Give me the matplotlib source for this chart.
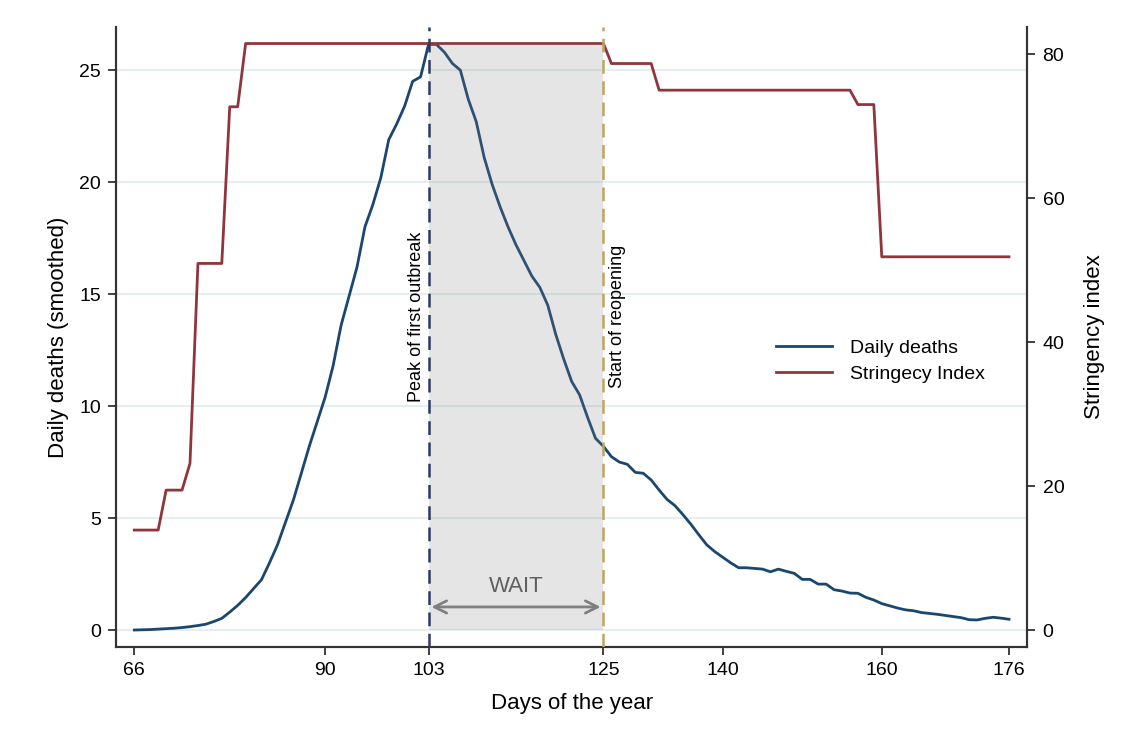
import numpy as np
import matplotlib
matplotlib.use("Agg")
import matplotlib.pyplot as plt

plt.rcParams['font.family'] = ['Liberation Sans', 'DejaVu Sans']

# days 66..176
days = list(range(66, 177))

# daily deaths (smoothed)
deaths = [0.00, 0.01, 0.02, 0.04, 0.06, 0.08, 0.11, 0.15, 0.20, 0.26,
          0.38, 0.52, 0.80, 1.10, 1.45, 1.85, 2.25, 3.00, 3.80, 4.80,
          5.80, 7.00, 8.20, 9.30, 10.40, 11.80, 13.60, 14.90, 16.20, 18.00,
          19.00, 20.20, 21.90, 22.60, 23.40, 24.50, 24.70, 26.15, 26.15, 25.80,
          25.30, 25.00, 23.70, 22.70, 21.10, 19.90, 18.90, 18.00, 17.20, 16.50,
          15.80, 15.30, 14.50, 13.20, 12.10, 11.10, 10.50, 9.50, 8.56, 8.20,
          7.74, 7.50, 7.40, 7.04, 7.00, 6.70, 6.25, 5.83, 5.55, 5.15,
          4.72, 4.25, 3.80, 3.50, 3.25, 3.00, 2.78, 2.78, 2.75, 2.72,
          2.60, 2.72, 2.62, 2.53, 2.26, 2.26, 2.05, 2.05, 1.80, 1.74,
          1.65, 1.64, 1.46, 1.34, 1.18, 1.08, 0.98, 0.90, 0.86, 0.78,
          0.74, 0.70, 0.65, 0.60, 0.55, 0.46, 0.45, 0.52, 0.57, 0.53,
          0.48]

# stringency index
stringency = ([13.89] * 4 + [19.44] * 3 + [23.15] + [50.93] * 4 + [72.69] * 2
              + [81.48] * 46 + [78.70] * 6 + [75.00] * 25 + [73.00] * 3
              + [51.85] * 17)

peak_day = 103
reopen_day = 125

xticks = [66, 90, 103, 125, 140, 160, 176]
yticks_left = [0, 5, 10, 15, 20, 25]
yticks_right = [0, 20, 40, 60, 80]

navy = '#1a476f'
maroon = '#90353b'
spine_col = '#333333'

fig = plt.figure(figsize=(11.32, 7.55), dpi=100)
ax = fig.add_axes([0.1025, 0.143, 0.805, 0.821])
ax2 = ax.twinx()

# grid
for y in yticks_left:
    ax.axhline(y, color='#e6eef0', lw=1.5, zorder=0)

ld, = ax.plot(days, deaths, color=navy, lw=2, label='Daily deaths', zorder=3)
ls, = ax2.plot(days, stringency, color=maroon, lw=2, label='Stringecy Index', zorder=3)

# wait period shading (drawn above the lines)
ax2.fill_between([peak_day, reopen_day], 0, max(deaths), transform=ax.transData,
                 color='#808080', alpha=0.2, lw=0, zorder=4)

ax2.axvline(peak_day, color='#2a3b63', lw=1.8, ls=(0, (5.5, 3)), zorder=5)
ax2.axvline(reopen_day, color='#bda463', lw=1.8, ls=(0, (5.5, 3)), zorder=5)

ax.text(peak_day - 0.4, 14, 'Peak of first outbreak', rotation=90,
        ha='right', va='center', fontsize=13)
ax.text(reopen_day + 0.7, 14, 'Start of reopening', rotation=90,
        ha='left', va='center', fontsize=13)

ax2.annotate('', xy=(peak_day, 1.03), xytext=(reopen_day, 1.03),
             xycoords=ax.transData, textcoords=ax.transData,
             arrowprops=dict(arrowstyle='<->', color='#808080', lw=2,
                             mutation_scale=22), zorder=6)
ax2.text((peak_day + reopen_day) / 2, 1.96, 'WAIT', transform=ax.transData,
         ha='center', va='center', fontsize=16, color='#606060', zorder=6)

ax.set_xlim(63.7, 178.3)
ax.set_ylim(-0.76, 26.92)
ax2.set_ylim(-2.36, 83.75)

ax.set_xticks(xticks)
ax.set_yticks(yticks_left)
ax2.set_yticks(yticks_right)

for a in (ax, ax2):
    a.tick_params(axis='both', labelsize=14, length=6, width=1.3, color=spine_col, pad=5)
    a.spines['top'].set_visible(False)
    for s in ('left', 'bottom', 'right'):
        a.spines[s].set_color(spine_col)
        a.spines[s].set_linewidth(1.5)

ax.set_xlabel('Days of the year', fontsize=16, labelpad=10)
ax.set_ylabel('Daily deaths (smoothed)', fontsize=16, labelpad=7)
ax2.set_ylabel('Stringency index', fontsize=16, labelpad=14)

ax2.legend(handles=[ld, ls], loc='center left', bbox_to_anchor=(0.724, 0.461),
           frameon=False, fontsize=14, handlelength=2.9, handletextpad=0.9,
           labelspacing=0.45, borderpad=0, borderaxespad=0)

fig.savefig('out.png', dpi=100, facecolor='white')
